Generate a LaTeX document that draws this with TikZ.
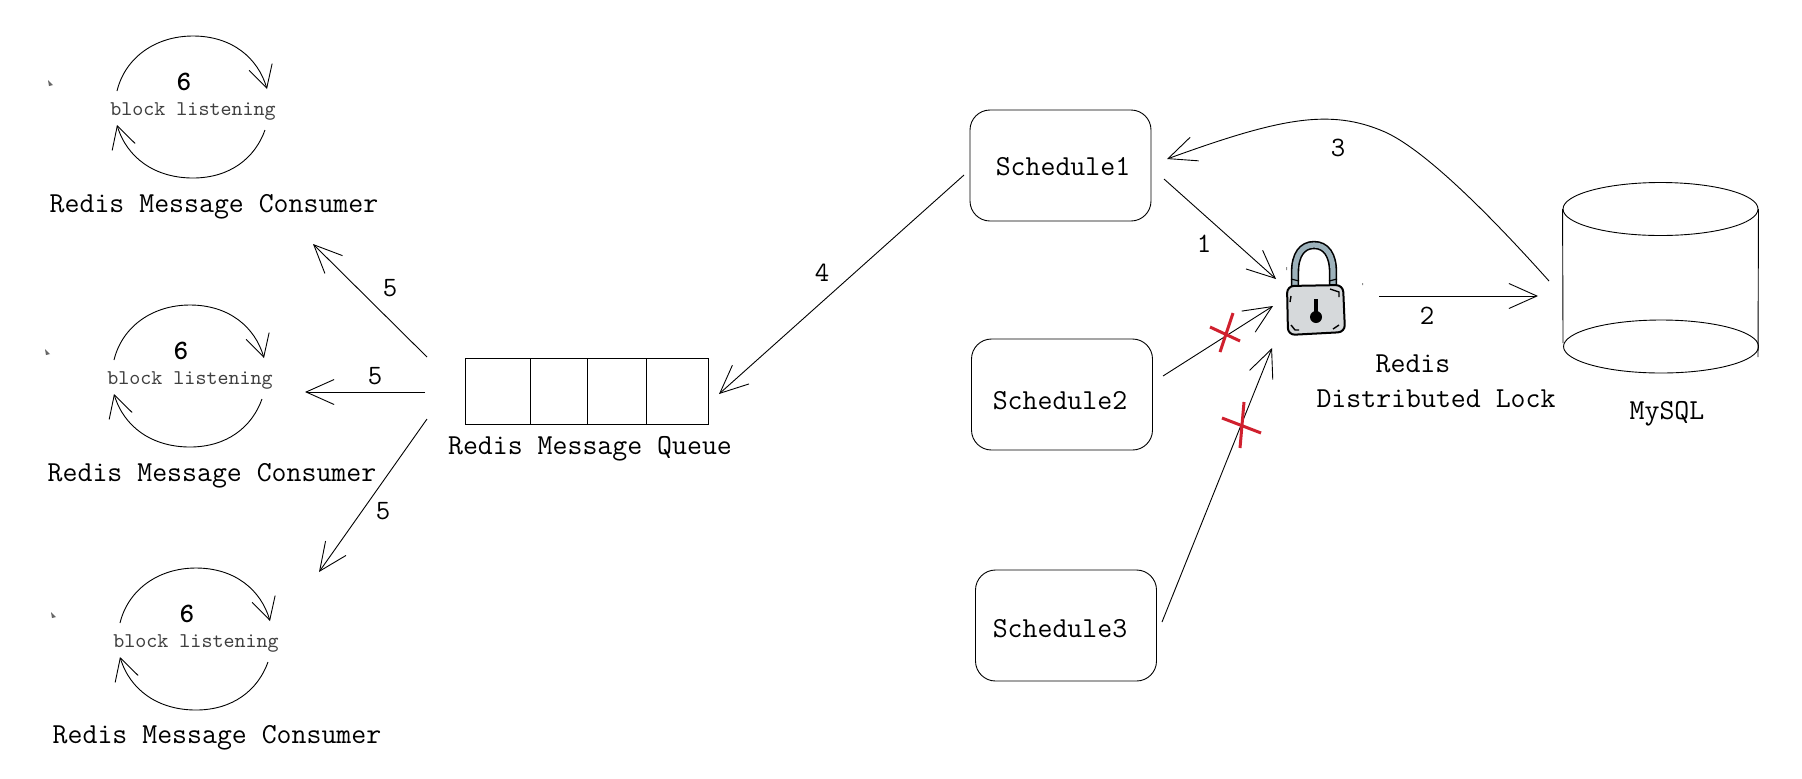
\documentclass[tikz,border=0pt]{standalone}
\usepackage{fontspec}
\usetikzlibrary{arrows.meta,shapes.geometric}
\definecolor{lockgray}{HTML}{D6D9DB}
\definecolor{shackle}{HTML}{9DB2BB}
\definecolor{crossred}{HTML}{D0202E}
\tikzset{
  x=0.5pt,y=-0.5pt,
  every path/.append style={line width=0.45pt},
  conn/.style={draw=black,-{Straight Barb[length=14pt,width=12.5pt,line width=0.45pt]}},
  loopconn/.style={draw=black,-{Straight Barb[length=11pt,width=12pt,line width=0.45pt]}},
  schedbox/.style={draw=black,rounded corners=10pt,minimum width=90.5pt,minimum height=55.5pt,inner sep=0pt},
  lab/.style={font=\ttfamily\fontsize{14.5}{16}\selectfont,inner sep=0pt,text=black,yshift=-1pt},
  numlab/.style={font=\ttfamily\fontsize{14}{16}\selectfont,inner sep=0pt,text=black},
  boldnum/.style={font=\ttfamily\bfseries\fontsize{14}{16}\selectfont,inner sep=0pt,text=black},
  smalllab/.style={font=\ttfamily\fontsize{10.5}{12}\selectfont,inner sep=0pt,text=black!75,yshift=-1pt},
  dbell/.style={draw=black,ellipse,minimum width=97.5pt,minimum height=26.5pt,inner sep=0pt},
  redcross/.style={draw=crossred,line width=1.5pt}
}
\begin{document}
\begin{tikzpicture}
\useasboundingbox (0,0) rectangle (1802,778);
\fill[white] (0,0) rectangle (1802,778);

% consumers
\foreach \n/\dx/\dy in {1/0/0,2/-3/269,3/3/532}{
  \begin{scope}[shift={(\dx,\dy)}]
    \draw[loopconn] (117,91) .. controls (125,58) and (155,36) .. (193,36) .. controls (232,36) and (258,58) .. (267,89);
    \draw[loopconn] (265,130) .. controls (255,158) and (230,178) .. (193,178) .. controls (155,178) and (127,158) .. (117,125);
    \node[boldnum] (six\n) at (184,82) {6};
    \node[smalllab] (block\n) at (193,109) {block listening};
    \fill[black!60] (48,80) -- (53,85) -- (49,86) -- cycle;
  \end{scope}
}
\node[lab] (cons1) at (214,205) {Redis Message Consumer};
\node[lab] (cons2) at (212,474) {Redis Message Consumer};
\node[lab] (cons3) at (217,736) {Redis Message Consumer};

% queue
\node[draw=black,minimum width=121.5pt,minimum height=33pt,inner sep=0pt] (queue) at (586.5,391) {};
\draw (530,358) -- (530,424);
\draw (587,358) -- (587,424);
\draw (646,358) -- (646,424);
\node[lab] (queuelab) at (590,447) {Redis Message Queue};

% schedules
\node[schedbox] (s1) at (1060.5,165.5) {};
\node[schedbox] (s2) at (1062,394.5) {};
\node[schedbox] (s3) at (1066,625.5) {};
\node[lab] (s1lab) at (1063,165) {Schedule1};
\node[lab] (s2lab) at (1060,399) {Schedule2};
\node[lab] (s3lab) at (1060,627) {Schedule3};

% database
\node[dbell] (dbtop) at (1660.5,209) {};
\node[dbell] (dbbot) at (1661,346.5) {};
\draw (dbtop.west) -- (1563,343);
\draw (dbtop.east) -- (1758,357);
\node[lab] (mysql) at (1667,412) {MySQL};

% lock
\begin{scope}
  \draw[black,line width=4.2pt] (1295,286) -- (1295,272) .. controls (1295,255) and (1302,245) .. (1314,245) .. controls (1326,245) and (1333,255) .. (1333,272) -- (1333,286);
  \draw[shackle,line width=2.6pt] (1295,285) -- (1295,272) .. controls (1295,255) and (1302,245) .. (1314,245) .. controls (1326,245) and (1333,255) .. (1333,272) -- (1333,285);
  \draw[black,line width=0.6pt] (1291,279) -- (1299,281);
  \draw[black,line width=0.6pt] (1329,281) -- (1337,279);
  \draw[black,line width=1pt,fill=lockgray,rounded corners=3.5pt] (1287,286) -- (1343,285) -- (1345,332) -- (1288,335) -- cycle;
  \draw[black,line width=1.6pt] (1316,299) -- (1316,316);
  \fill[black] (1316,317) circle[radius=3pt];
  \draw[black,line width=0.7pt] (1290,302) -- (1291,296) (1330,289) -- (1339,292) -- (1339,297)
    (1291,325) -- (1295,330) -- (1299,330) (1333,329) -- (1339,325);
  \fill[black!45] (1286,267) rectangle +(1,3) (1362,283) rectangle +(1,2);
\end{scope}
\node[lab] (redis) at (1413,362) {Redis};
\node[lab] (dlock) at (1436,397) {Distributed Lock};

% connector ends
\coordinate (a1s) at (1164,179);
\coordinate (a1e) at (1276,279);
\coordinate (a2s) at (1379,296);
\coordinate (a2e) at (1538,296);
\coordinate (a3s) at (1549,281);
\coordinate (a3e) at (1167,159);
\coordinate (a4s) at (964,175);
\coordinate (a4e) at (719,394);
\coordinate (b2s) at (1163,376);
\coordinate (b2e) at (1273,306);
\coordinate (b3s) at (1162,622);
\coordinate (b3e) at (1272,348);
\coordinate (c1s) at (427,357);
\coordinate (c1e) at (313,244);
\coordinate (c2s) at (425,392);
\coordinate (c2e) at (305,392);
\coordinate (c3s) at (427,419);
\coordinate (c3e) at (319,572);

\draw[conn] (a1s) -- (a1e);
\draw[conn] (a2s) -- (a2e);
\draw[conn] (a3s) .. controls (1490,215) and (1425,150) .. (1385,132) .. controls (1330,108) and (1280,118) .. (a3e);
\draw[conn] (a4s) -- (a4e);
\draw[conn] (b2s) -- (b2e);
\draw[conn] (b3s) -- (b3e);
\draw[conn] (c1s) -- (c1e);
\draw[conn] (c2s) -- (c2e);
\draw[conn] (c3s) -- (c3e);

% numbers
\node[numlab] (n1) at (1204,244) {1};
\node[numlab] (n2) at (1427,316) {2};
\node[numlab] (n3) at (1338,148) {3};
\node[numlab] (n4) at (822,273) {4};
\node[numlab] (n5a) at (390,288) {5};
\node[numlab] (n5b) at (375,376) {5};
\node[numlab] (n5c) at (383,511) {5};

% crosses
\draw[redcross] (1233,313) -- (1220,352);
\draw[redcross] (1210,327) -- (1240,341);
\draw[redcross] (1244,402) -- (1240,448);
\draw[redcross] (1222,418) -- (1261,433);
\end{tikzpicture}
\end{document}
